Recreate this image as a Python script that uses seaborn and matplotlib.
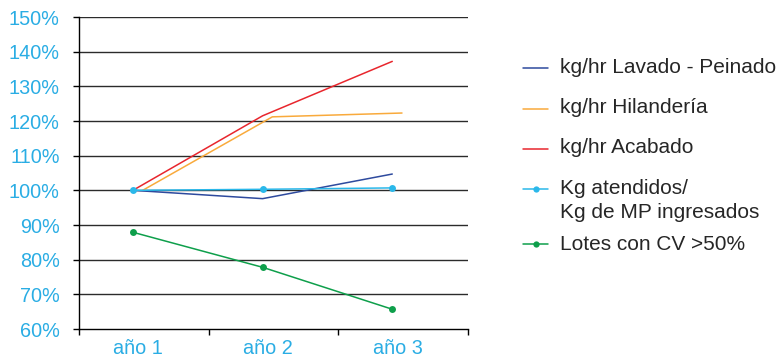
import matplotlib
matplotlib.use("Agg")
import matplotlib.pyplot as plt
from matplotlib.lines import Line2D
from matplotlib.ticker import FixedLocator
import seaborn as sns
import pandas as pd

# --- data -------------------------------------------------------------
years = ["año 1", "año 2", "año 3"]

lavado_peinado = [100.0, 97.6, 104.7]
hilanderia = [100.0, 121.2, 122.3]
acabado = [100.0, 121.5, 137.2]
kg_atendidos = [100.0, 100.3, 100.7]
lotes_cv = [87.9, 77.8, 65.7]

series_names = [
    "kg/hr Lavado - Peinado",
    "kg/hr Hilandería",
    "kg/hr Acabado",
    "Kg atendidos/\nKg de MP ingresados",
    "Lotes con CV >50%",
]

# --- styling ----------------------------------------------------------
colors = ["#2E4A9E", "#F9AA3C", "#E8262D", "#2BB8EA", "#0E9F4B"]
has_marker = [False, False, False, True, True]
x_shift = [0.0, 0.075, 0.0, 0.0, 0.0]
label_blue = "#2AADE4"
grid_color = "#2b2b2b"

sns.set_theme(style="white")
plt.rcParams["font.family"] = ["Liberation Sans", "DejaVu Sans"]

fig = plt.figure(figsize=(7.84, 3.63), dpi=100)
W, H = 784, 363
ax = fig.add_axes([79 / W, 1 - 329 / H, (468 - 79) / W, (329 - 17) / H])

values = [lavado_peinado, hilanderia, acabado, kg_atendidos, lotes_cv]
for name, vals, c, mk, dx in zip(series_names, values, colors, has_marker, x_shift):
    df = pd.DataFrame({"x": [i + dx for i in range(len(years))], "y": vals})
    sns.lineplot(
        data=df, x="x", y="y", ax=ax, color=c, linewidth=1.1,
        marker="o" if mk else None, markersize=5, markeredgewidth=0,
        legend=False, sort=False,
    )

# axes ranges and grid
ax.set_xlim(-0.416, 2.584)
ax.set_ylim(60, 150)
ax.set_yticks(range(60, 151, 10))
ax.set_yticklabels([f"{v}%" for v in range(60, 151, 10)])
for v in range(70, 151, 10):
    ax.axhline(v, color=grid_color, linewidth=1.0, zorder=0)

ax.set_xticks([i + 0.04 for i in range(len(years))])
ax.set_xticklabels(years)
ax.xaxis.set_minor_locator(FixedLocator([-0.416, 0.584, 1.584, 2.584]))
ax.tick_params(axis="x", which="major", length=0, pad=7,
               labelsize=14.3, labelcolor=label_blue)
ax.tick_params(axis="x", which="minor", length=4, width=1.0,
               color="black", direction="out", bottom=True)
ax.tick_params(axis="y", length=4, width=1.0, color="black",
               direction="out", left=True, pad=10,
               labelsize=14.3, labelcolor=label_blue)

ax.set_xlabel("")
ax.set_ylabel("")
for side in ["top", "right"]:
    ax.spines[side].set_visible(False)
for side in ["left", "bottom"]:
    ax.spines[side].set_visible(True)
    ax.spines[side].set_color("black")
    ax.spines[side].set_linewidth(1.0)

# legend drawn to the right of the plot
entries = [
    (series_names[0], 68, 73),
    (series_names[1], 109, 113),
    (series_names[2], 149, 153),
    (series_names[3], 189, 194),
    (series_names[4], 244, 250),
]
for (label, hy, by), c, mk in zip(entries, colors, has_marker):
    fig.add_artist(Line2D([523 / W, 548 / W], [1 - hy / H, 1 - hy / H],
                          transform=fig.transFigure, color=c, linewidth=1.1))
    if mk:
        fig.add_artist(Line2D([535.5 / W], [1 - hy / H],
                              transform=fig.transFigure, color=c,
                              marker="o", markersize=4.5, markeredgewidth=0,
                              linestyle="none"))
    lines = label.split("\n")
    for k, line in enumerate(lines):
        fig.text(560 / W, 1 - (by + 24 * k) / H, line, fontsize=15,
                 color="#262626", ha="left", va="baseline")

fig.savefig("out.png", dpi=100)
